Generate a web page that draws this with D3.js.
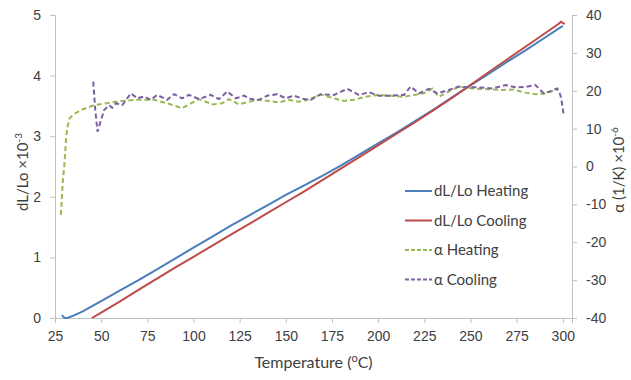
<!DOCTYPE html>
<html>
<head>
<meta charset="utf-8">
<script src="https://cdn.jsdelivr.net/npm/d3@7"></script>
<style>
  body { margin: 0; background: #fff; }
  svg { font-family: Lato, "Open Sans", sans-serif; }
</style>
</head>
<body>
<div id="chart"></div>
<script>
// dL/Lo (x10^-3) vs temperature
const heatT  = [28.8, 29.5, 30.5, 32, 35, 40, 50, 60, 70, 80, 90, 100, 110, 120, 130, 140, 150, 160, 170, 180, 190, 200, 210, 220, 230, 240, 250, 260, 270, 280, 290, 300];
const heatDL = [0.05, 0.02, 0.0, 0.005, 0.04, 0.11, 0.28, 0.45, 0.62, 0.80, 0.98, 1.16, 1.34, 1.52, 1.69, 1.86, 2.03, 2.19, 2.35, 2.52, 2.70, 2.88, 3.06, 3.25, 3.44, 3.64, 3.84, 4.03, 4.23, 4.42, 4.62, 4.82];
const coolT  = [45, 50, 60, 70, 80, 90, 100, 110, 120, 130, 140, 150, 160, 170, 180, 190, 200, 210, 220, 230, 240, 250, 260, 270, 280, 290, 298, 299, 300, 301];
const coolDL = [0.0, 0.09, 0.27, 0.46, 0.645, 0.83, 1.01, 1.19, 1.37, 1.55, 1.73, 1.91, 2.09, 2.28, 2.47, 2.66, 2.85, 3.04, 3.23, 3.43, 3.63, 3.845, 4.06, 4.27, 4.48, 4.69, 4.86, 4.89, 4.87, 4.85];

// alpha (1/K x10^-6) vs temperature
const aHeatT = [28.2, 29.2, 30.0, 31.1, 31.8, 32.7, 33.6, 35.9, 39.0, 46.2, 53.2, 60.7, 69.6, 78.7, 85.7, 93.8, 97.6, 103.0, 110.2, 115.6, 119.3, 124.7, 130.1, 135.5, 140.9, 146.3, 151.7, 157.1, 162.6, 169.0, 176.0, 181.4, 186.8, 193.2, 199.5, 206.8, 214.0, 219.4, 224.8, 229.3, 232.9, 238.3, 243.7, 250.9, 260.0, 267.1, 273.5, 279.8, 285.2, 290.6, 296.0, 297.8];
const aHeat  = [-12.8, -4, 0, 8, 10.5, 12.5, 13.1, 14.0, 14.9, 16.2, 16.7, 17.3, 17.6, 17.6, 16.7, 15.4, 16.4, 17.8, 16.4, 16.7, 17.8, 16.4, 17.1, 17.6, 17.3, 16.9, 17.6, 17.1, 17.8, 19.0, 18.0, 17.3, 17.6, 18.4, 18.9, 18.7, 18.4, 18.9, 19.3, 20.6, 18.4, 19.8, 21.1, 20.6, 20.4, 20.2, 20.3, 19.5, 19.1, 19.3, 20.2, 20.6];
const aCoolT = [45.7, 46.8, 48.0, 51.6, 54.3, 56.0, 58.0, 61.4, 66.1, 69.6, 73.3, 76.9, 80.3, 85.7, 89.5, 93.8, 97.6, 103.0, 109.4, 113.8, 118.3, 122.9, 127.4, 131.0, 135.5, 140.0, 145.4, 149.9, 154.4, 159.8, 163.5, 168.9, 176.1, 183.3, 189.6, 195.0, 200.4, 206.8, 214.0, 217.6, 222.1, 227.5, 232.0, 238.3, 243.7, 249.1, 254.5, 261.7, 269.0, 274.4, 279.8, 285.2, 289.7, 294.2, 296.9, 298.7, 299.6, 300.5];
const aCool  = [22.4, 15, 9.2, 14.9, 16.2, 15.5, 16.7, 16.2, 19.3, 18.0, 18.5, 17.6, 18.9, 17.6, 19.1, 18.0, 18.9, 17.8, 18.9, 17.8, 19.8, 18.0, 18.7, 17.8, 17.6, 18.7, 19.1, 18.0, 18.7, 17.8, 17.6, 19.1, 18.9, 20.5, 18.9, 19.6, 18.7, 18.7, 18.9, 21.1, 19.3, 20.5, 19.3, 20.2, 21.1, 20.9, 20.9, 20.6, 21.5, 20.9, 21.0, 21.5, 19.3, 20.0, 20.6, 18.9, 16.7, 13.6];

const xTicks = [25, 50, 75, 100, 125, 150, 175, 200, 225, 250, 275, 300];
const yLeftTicks = [0, 1, 2, 3, 4, 5];
const yRightTicks = [-40, -30, -20, -10, 0, 10, 20, 30, 40];

const series = [
  {name: "dL/Lo Heating", T: heatT, v: heatDL, axis: "left", color: "#4a7ebb", dash: null},
  {name: "dL/Lo Cooling", T: coolT, v: coolDL, axis: "left", color: "#be4b48", dash: null},
  {name: "\u03b1 Heating", T: aHeatT, v: aHeat, axis: "right", color: "#98b954", dash: "5,3"},
  {name: "\u03b1 Cooling", T: aCoolT, v: aCool, axis: "right", color: "#7d60a0", dash: "5,3"}
];

const W = 631, H = 380;
const margin = {top: 15, right: 59, bottom: 62, left: 55};

const svg = d3.select("#chart").append("svg")
  .attr("width", W).attr("height", H);

const x = d3.scaleLinear().domain([25, 305]).range([margin.left, W - margin.right]);
const yL = d3.scaleLinear().domain([0, 5]).range([H - margin.bottom, margin.top]);
const yR = d3.scaleLinear().domain([-40, 40]).range([H - margin.bottom, margin.top]);

const axisColor = "#bfbfbf", textColor = "#404040";
const fmt = d => String(d);   // plain hyphen minus, no decimals

function styleAxis(g) {
  g.select(".domain").attr("stroke", axisColor);
  g.selectAll(".tick line").attr("stroke", axisColor);
  g.selectAll(".tick text").attr("fill", textColor).style("font-size", "14px");
}

svg.append("g")
  .attr("transform", `translate(0,${H - margin.bottom})`)
  .call(d3.axisBottom(x).tickValues(xTicks).tickFormat(fmt).tickSizeOuter(0).tickSize(5).tickPadding(8))
  .call(styleAxis);

svg.append("g")
  .attr("transform", `translate(${margin.left},0)`)
  .call(d3.axisLeft(yL).tickValues(yLeftTicks).tickFormat(fmt).tickSizeOuter(0).tickSize(5).tickPadding(9))
  .call(styleAxis);

svg.append("g")
  .attr("transform", `translate(${W - margin.right},0)`)
  .call(d3.axisRight(yR).tickValues(yRightTicks).tickFormat(fmt).tickSizeOuter(0).tickSize(5).tickPadding(9))
  .call(styleAxis);

// lines
series.forEach(s => {
  const yS = s.axis === "left" ? yL : yR;
  const line = d3.line()
    .x((d, i) => x(s.T[i]))
    .y(d => yS(d));
  svg.append("path")
    .datum(s.v)
    .attr("fill", "none")
    .attr("stroke", s.color)
    .attr("stroke-width", 2)
    .attr("stroke-dasharray", s.dash)
    .attr("d", line);
});

// axis titles
const xt = svg.append("text")
  .attr("x", (margin.left + W - margin.right) / 2)
  .attr("y", 368)
  .attr("text-anchor", "middle")
  .attr("fill", textColor)
  .style("font-size", "16px");
xt.append("tspan").text("Temperature (");
xt.append("tspan").attr("baseline-shift", "super").style("font-size", "11px").text("o");
xt.append("tspan").text("C)");

const lt = svg.append("text")
  .attr("transform", "translate(28,172) rotate(-90)")
  .attr("text-anchor", "middle")
  .attr("fill", textColor)
  .style("font-size", "15px");
lt.append("tspan").text("dL/Lo \u00d710");
lt.append("tspan").attr("baseline-shift", "super").style("font-size", "10px").text("-3");

const rt = svg.append("text")
  .attr("transform", "translate(624,170) rotate(-90)")
  .attr("text-anchor", "middle")
  .attr("fill", textColor)
  .style("font-size", "15px");
rt.append("tspan").text("\u03b1 (1/K) \u00d710");
rt.append("tspan").attr("baseline-shift", "super").style("font-size", "10px").text("-6");

// legend
const legend = svg.append("g").attr("transform", "translate(405,191)");
series.forEach((s, i) => {
  const g = legend.append("g").attr("transform", `translate(0,${i * 29.5})`);
  g.append("line")
    .attr("x1", 0).attr("x2", 27).attr("y1", 0).attr("y2", 0)
    .attr("stroke", s.color).attr("stroke-width", 2)
    .attr("stroke-dasharray", s.dash ? "4,2" : null);
  g.append("text")
    .attr("x", 29).attr("y", 5)
    .attr("fill", textColor)
    .style("font-size", "15px")
    .text(s.name);
});
</script>
</body>
</html>
